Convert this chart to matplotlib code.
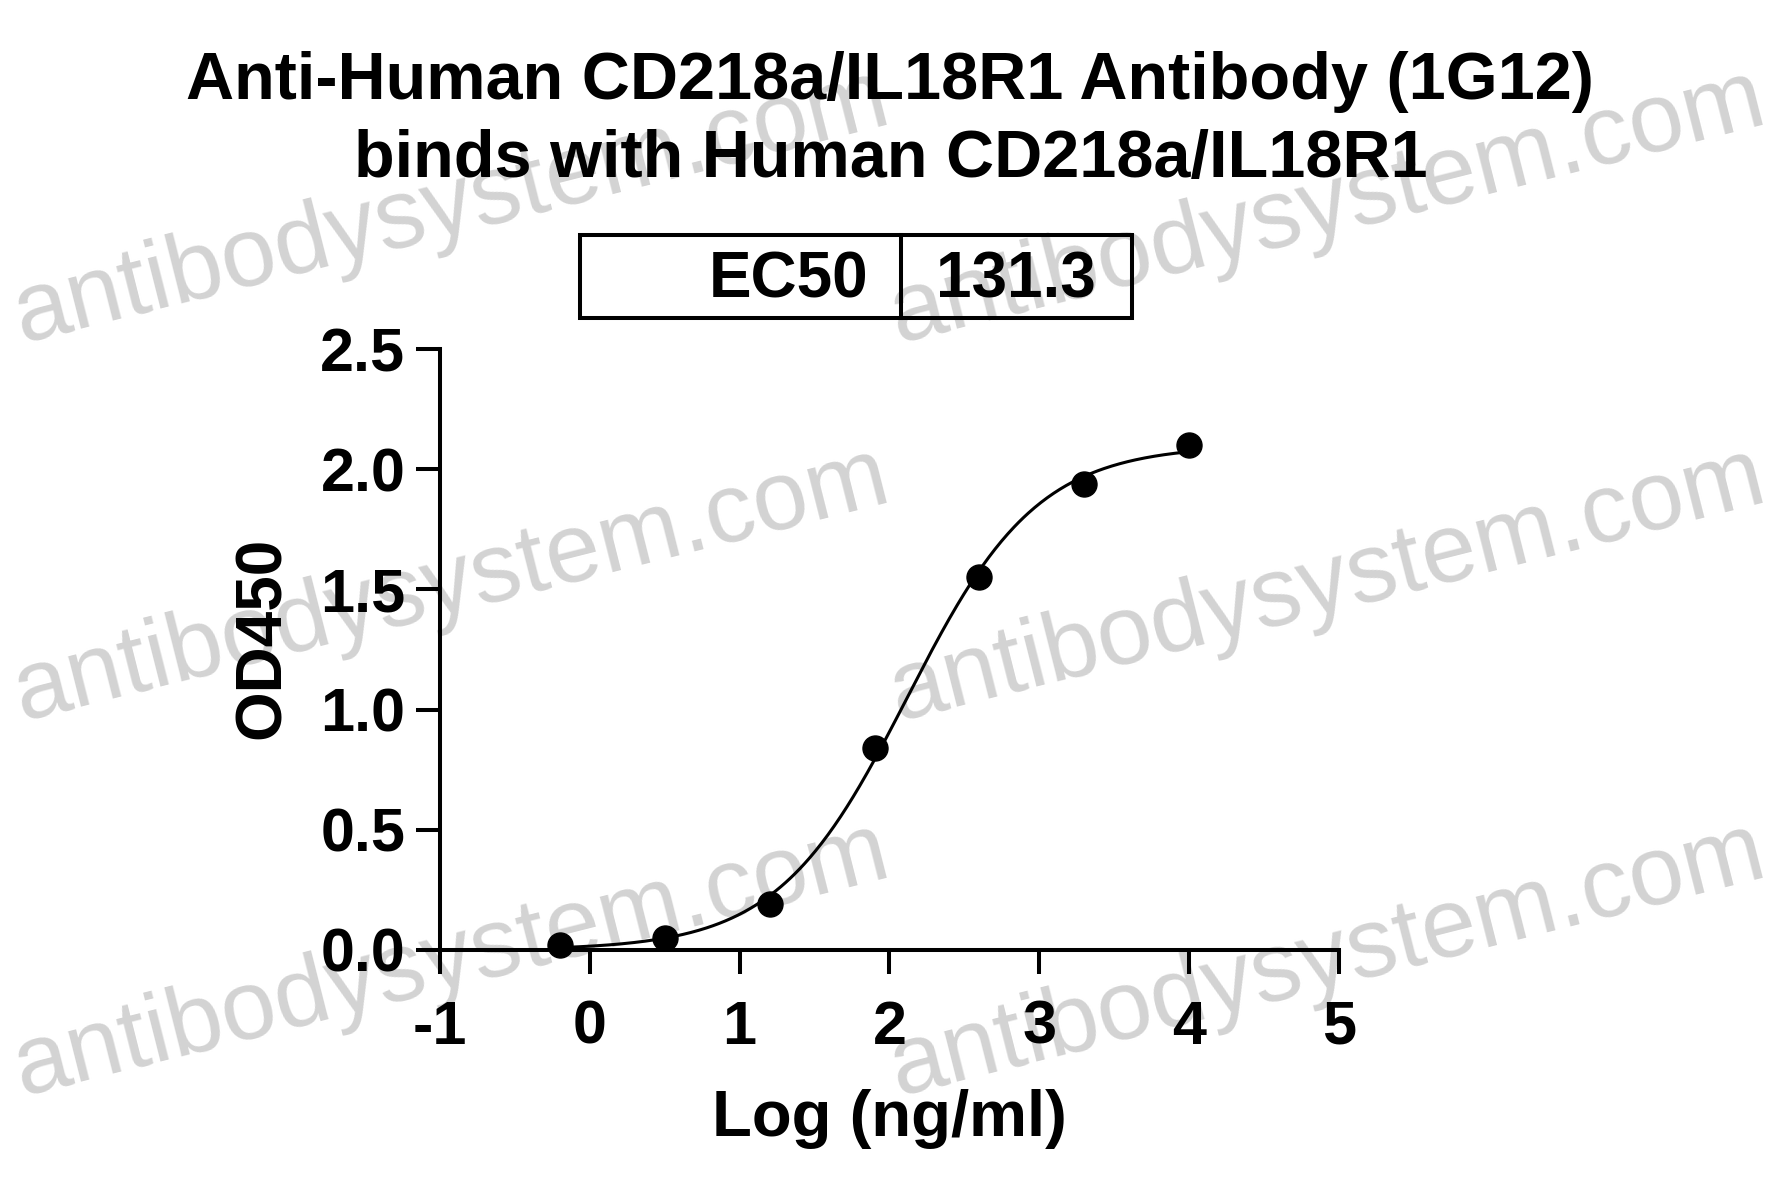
import numpy as np
import matplotlib.pyplot as plt
from matplotlib.patches import Rectangle
from matplotlib.lines import Line2D

plt.rcParams['font.family'] = ['Liberation Sans', 'DejaVu Sans']
plt.rcParams['font.weight'] = 'bold'
plt.rcParams['axes.unicode_minus'] = False

# measured points: log concentration (ng/ml) vs OD450
log_conc = [-0.2, 0.5, 1.2, 1.9, 2.6, 3.3, 4.0]
od450 = [0.02, 0.05, 0.19, 0.84, 1.55, 1.94, 2.10]

# 4PL fit parameters (EC50 = 131.3 ng/ml)
ec50 = 131.3
bottom, top, hill = 0.0, 2.10, 1.0

x_ticks = [-1, 0, 1, 2, 3, 4, 5]
y_ticks = [0.0, 0.5, 1.0, 1.5, 2.0, 2.5]

title = "Anti-Human CD218a/IL18R1 Antibody (1G12)\nbinds with Human CD218a/IL18R1"
watermark = "antibodysystem.com"

W, H = 1781, 1197
fig = plt.figure(figsize=(W / 100, H / 100), dpi=100)

# watermark grid, behind everything
for cx in [452, 1328]:
    for cy in [208, 586, 961]:
        fig.text(cx / W, 1 - cy / H, watermark, fontsize=71, fontweight='normal',
                 color='#d3d3d3', rotation=14.2, rotation_mode='anchor',
                 ha='center', va='center', zorder=-5)

ax = fig.add_axes([440 / W, 1 - 950 / H, (1339 - 440) / W, (950 - 349) / H])
ax.patch.set_alpha(0)

xs = np.linspace(log_conc[0], log_conc[-1], 400)
curve = bottom + (top - bottom) / (1 + 10 ** ((np.log10(ec50) - xs) * hill))
ax.plot(xs, curve, color='black', lw=2.2, zorder=3, clip_on=False)
ax.plot(log_conc, od450, 'o', color='black', ms=18, zorder=4, clip_on=False)

ax.set_xlim(-1, 5)
ax.set_ylim(0, 2.5)
ax.set_xticks(x_ticks)
ax.set_yticks(y_ticks)
ax.set_yticklabels([f"{v:.1f}" for v in y_ticks])
for s in ['top', 'right']:
    ax.spines[s].set_visible(False)
for s in ['left', 'bottom']:
    ax.spines[s].set_linewidth(2.9)
ax.tick_params(axis='both', direction='out', length=17, width=2.9, labelsize=44)
ax.tick_params(axis='y', pad=8)
ax.tick_params(axis='x', pad=19)
for lab in ax.get_xticklabels() + ax.get_yticklabels():
    lab.set_fontweight('bold')

ax.set_ylabel("OD450", fontsize=46, fontweight='bold')
ax.yaxis.set_label_coords(-0.197, 0.52)
ax.yaxis.label.set_va('center')
ax.set_xlabel("Log (ng/ml)", fontsize=47, fontweight='bold')
ax.xaxis.set_label_coords(0.5, -0.281)
ax.xaxis.label.set_va('center')

fig.text(0.5, 1 - 121 / H, title, fontsize=48, fontweight='bold',
         ha='center', va='center', linespacing=1.33)

# EC50 box
bx0, bx1, by0, by1, bdiv = 580, 1132, 235, 318, 901
fig.patches.append(Rectangle((bx0 / W, 1 - by1 / H), (bx1 - bx0) / W, (by1 - by0) / H,
                             transform=fig.transFigure, fill=False, lw=2.9,
                             edgecolor='black'))
fig.lines.append(Line2D([bdiv / W, bdiv / W], [1 - by1 / H, 1 - by0 / H],
                        transform=fig.transFigure, color='black', lw=2.9))
fig.text(868 / W, 1 - 281 / H, "EC50", fontsize=46, fontweight='bold',
         ha='right', va='center')
fig.text(936 / W, 1 - 281 / H, f"{ec50}", fontsize=46, fontweight='bold',
         ha='left', va='center')

fig.savefig("out.png", dpi=100)
